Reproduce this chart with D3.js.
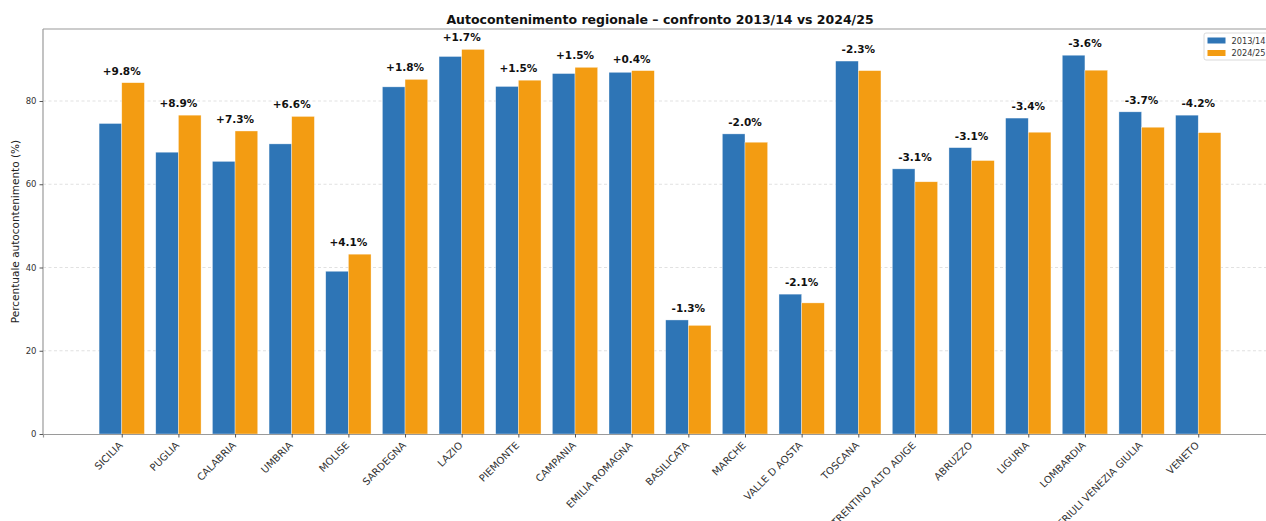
<!DOCTYPE html>
<html>
<head>
<meta charset="utf-8">
<script src="https://cdn.jsdelivr.net/npm/d3@7"></script>
<style>
  html, body { margin: 0; padding: 0; background: #fff; }
  svg { display: block; font-family: "DejaVu Sans", sans-serif; }
</style>
</head>
<body>
<svg id="chart" width="1266" height="521"></svg>
<script>
const regions = ["SICILIA","PUGLIA","CALABRIA","UMBRIA","MOLISE","SARDEGNA","LAZIO","PIEMONTE","CAMPANIA","EMILIA ROMAGNA","BASILICATA","MARCHE","VALLE D AOSTA","TOSCANA","TRENTINO ALTO ADIGE","ABRUZZO","LIGURIA","LOMBARDIA","FRIULI VENEZIA GIULIA","VENETO"];
const values2013 = [74.6,67.7,65.5,69.7,39.1,83.4,90.7,83.5,86.6,86.9,27.4,72.1,33.6,89.6,63.7,68.8,75.9,91.0,77.4,76.6];
const values2024 = [84.4,76.6,72.8,76.3,43.2,85.2,92.4,85.0,88.1,87.3,26.1,70.1,31.5,87.3,60.6,65.7,72.5,87.4,73.7,72.4];
const deltaLabels = ["+9.8%","+8.9%","+7.3%","+6.6%","+4.1%","+1.8%","+1.7%","+1.5%","+1.5%","+0.4%","-1.3%","-2.0%","-2.1%","-2.3%","-3.1%","-3.1%","-3.4%","-3.6%","-3.7%","-4.2%"];
const seriesNames = ["2013/14","2024/25"];
const yTicks = [0,20,40,60,80];
const colors = ["#2E75B6","#F39C12"];

const svg = d3.select("#chart");
const M = {left: 43, top: 29, right: 1277, bottom: 434};
const n = regions.length;
const x = d3.scaleLinear().domain([-1.39, (n - 1) + 1.39]).range([M.left, M.right]);
const y = d3.scaleLinear().domain([0, 97.3]).range([M.bottom, M.top]);
const bw = 0.4;

// grid
svg.append("g").selectAll("line").data(yTicks.filter(d => d > 0)).join("line")
  .attr("x1", M.left).attr("x2", M.right)
  .attr("y1", d => y(d)).attr("y2", d => y(d))
  .attr("stroke", "#d9d9d9").attr("stroke-width", 0.8).attr("stroke-dasharray", "3,2.5");

// bars
const series = [values2013, values2024];
series.forEach((vals, s) => {
  svg.append("g").selectAll("rect").data(vals).join("rect")
    .attr("x", (d, i) => x(i - bw + s * bw))
    .attr("width", x(bw) - x(0))
    .attr("y", d => y(d))
    .attr("height", d => y(0) - y(d))
    .attr("fill", colors[s])
    .attr("stroke", "rgba(255,255,255,0.6)").attr("stroke-width", 0.6);
});

// delta labels
svg.append("g").selectAll("text").data(deltaLabels).join("text")
  .attr("x", (d, i) => x(i))
  .attr("y", (d, i) => y(Math.max(values2013[i], values2024[i])) - 8)
  .attr("text-anchor", "middle")
  .attr("font-size", "10.5px").attr("font-weight", "bold").attr("fill", "#111")
  .text(d => d);

// spines
svg.append("line").attr("x1", M.left).attr("x2", M.right).attr("y1", M.top).attr("y2", M.top)
  .attr("stroke", "#9a9a9a").attr("stroke-width", 1.2);
svg.append("line").attr("x1", M.left).attr("x2", M.left).attr("y1", M.top).attr("y2", M.bottom)
  .attr("stroke", "#9a9a9a").attr("stroke-width", 1.2);
svg.append("line").attr("x1", M.right).attr("x2", M.right).attr("y1", M.top).attr("y2", M.bottom)
  .attr("stroke", "#9a9a9a").attr("stroke-width", 1.2);

// y axis
const yAxis = d3.axisLeft(y).tickValues(yTicks).tickSize(3.5).tickPadding(3);
const gy = svg.append("g").attr("transform", `translate(${M.left},0)`).call(yAxis);
gy.select(".domain").remove();
gy.selectAll(".tick line").attr("stroke", "#555");
gy.selectAll(".tick text").attr("font-size", "8.5px").attr("fill", "#333").attr("font-family", "DejaVu Sans");

// x axis
const xAxis = d3.axisBottom(x).tickValues(d3.range(n)).tickFormat(i => regions[i]).tickSize(3.5).tickPadding(0);
const gx = svg.append("g").attr("transform", `translate(0,${M.bottom})`).call(xAxis);
gx.select(".domain").attr("stroke", "#9a9a9a").attr("stroke-width", 1.2);
gx.selectAll(".tick line").attr("stroke", "#555");
gx.selectAll(".tick text")
  .attr("font-size", "10px").attr("fill", "#333").attr("font-family", "DejaVu Sans")
  .attr("text-anchor", "end")
  .attr("dy", null)
  .attr("y", null)
  .attr("transform", "translate(1,12) rotate(-45)");

// title
svg.append("text").attr("x", (M.left + M.right) / 2).attr("y", 24)
  .attr("text-anchor", "middle").attr("font-size", "12.5px").attr("font-weight", "bold").attr("fill", "#111")
  .text("Autocontenimento regionale – confronto 2013/14 vs 2024/25");

// y label
svg.append("text").attr("transform", `translate(19,${(M.top + M.bottom) / 2}) rotate(-90)`)
  .attr("text-anchor", "middle").attr("font-size", "10.5px").attr("fill", "#222")
  .text("Percentuale autocontenimento (%)");

// legend
const lg = svg.append("g").attr("transform", "translate(1204,33)");
lg.append("rect").attr("x", 0).attr("y", 0).attr("width", 72).attr("height", 27).attr("rx", 2)
  .attr("fill", "rgba(255,255,255,0.85)").attr("stroke", "#d0d0d0").attr("stroke-width", 0.8);
seriesNames.forEach((name, i) => {
  lg.append("rect").attr("x", 3.5).attr("y", 4.5 + i * 12.5).attr("width", 18).attr("height", 6)
    .attr("fill", colors[i]);
  lg.append("text").attr("x", 27.5).attr("y", 10.8 + i * 12.5)
    .attr("font-size", "8.2px").attr("fill", "#333").text(name);
});
</script>
</body>
</html>
